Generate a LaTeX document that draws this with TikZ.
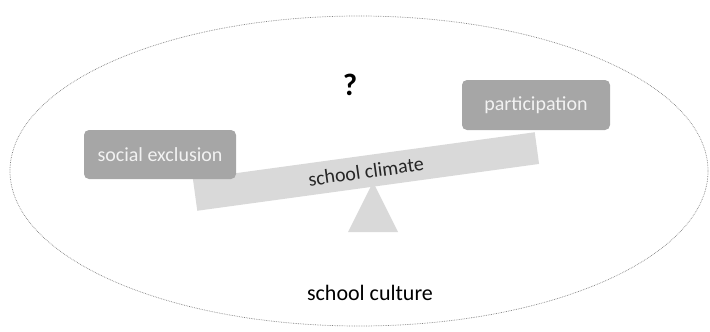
\documentclass[tikz,border=0pt]{standalone}
\usepackage{fontspec}
\setmainfont{Carlito}
\usepackage{tikz}

\definecolor{boxgray}{HTML}{A6A6A6}
\definecolor{beamgray}{HTML}{D9D9D9}
\definecolor{labelgray}{HTML}{F2F2F2}
\definecolor{inkgray}{HTML}{262626}
\definecolor{rimgray}{HTML}{808080}

\begin{document}
\begin{tikzpicture}[x=1pt, y=-1pt,
		side/.style={rounded corners=5pt, fill=boxgray, text=labelgray, font=\fontsize{20}{24}\selectfont, inner sep=0pt},
		plank/.style={fill=beamgray, inner sep=0pt, minimum width=345pt, minimum height=32pt, rotate=7.8}]
		\useasboundingbox (0,0) rectangle (710,332);

		\draw[densely dotted, rimgray, line width=0.7pt] (359,171) ellipse [x radius=349, y radius=155];

		\fill[beamgray] (348,232) -- (398,232) -- (373,182) -- cycle;
		\node (climate) [plank, text=inkgray, font=\fontsize{20}{24}\selectfont] at (366,171.5) {school climate};

		\node (exclusion) [side, minimum width=152pt, minimum height=49pt] at (160,154.5) {social exclusion};
		\node (participation) [side, minimum width=148pt, minimum height=50pt] at (536,105) {participation};

		\node (question) [font=\fontsize{31}{34}\selectfont\bfseries, text=black] at (350,85) {?};
		\node (culture) [font=\fontsize{22}{26}\selectfont, text=black] at (370,293) {school culture};
	\end{tikzpicture}
\end{document}
